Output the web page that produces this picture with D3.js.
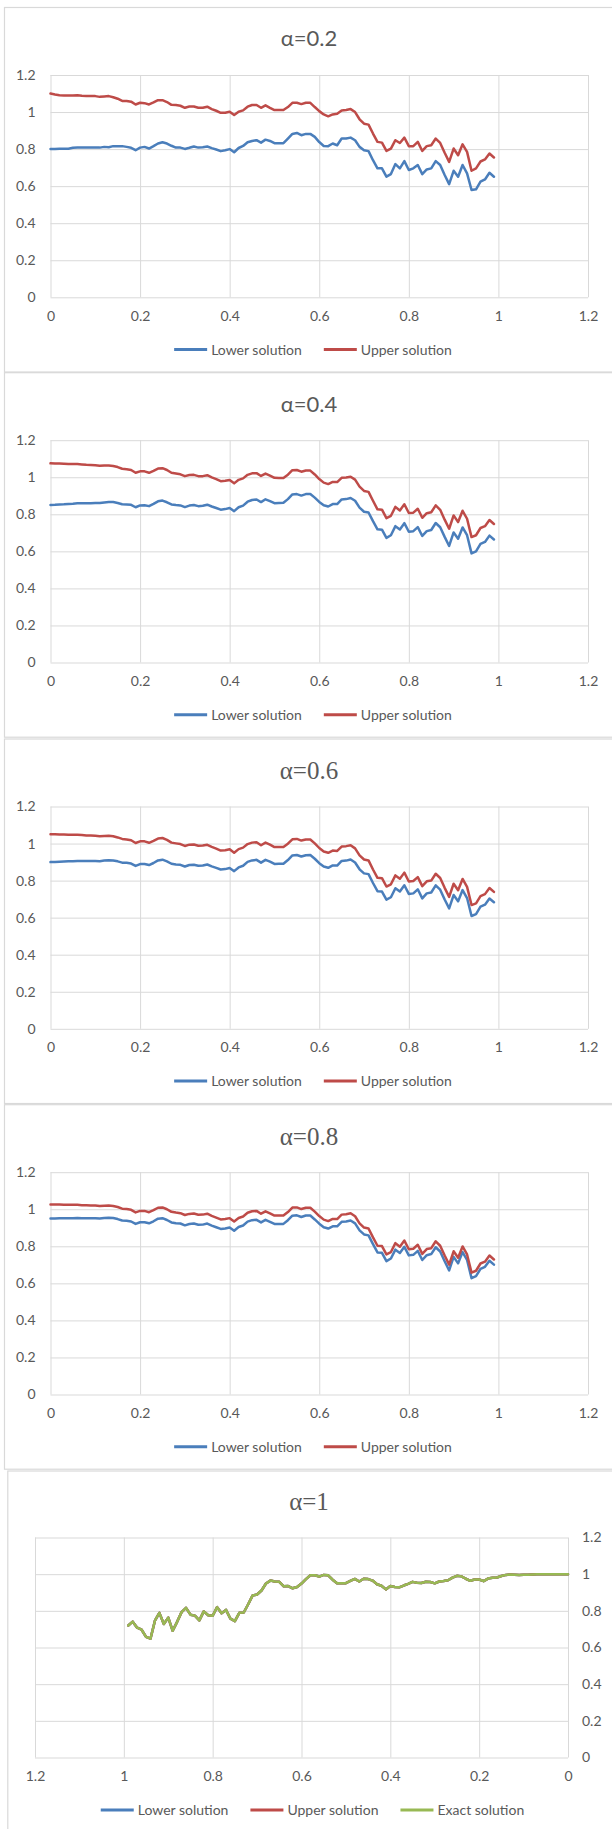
<!DOCTYPE html>
<html>
<head>
<meta charset="utf-8">
<script src="https://cdn.jsdelivr.net/npm/d3@7"></script>
<style>
  html, body { margin: 0; padding: 0; background: #ffffff; }
  svg { display: block; }
  .tick text { font-family: Lato, "Liberation Sans", sans-serif; font-size: 14px; fill: #595959; }
  .legend text { font-family: Lato, "Liberation Sans", sans-serif; font-size: 14px; fill: #595959; }
</style>
</head>
<body>
<svg id="chart" width="612" height="1829"></svg>
<script>
// ---- data -------------------------------------------------------------
const xValues = [
  0.00,0.01,0.02,0.03,0.04,0.05,0.06,0.07,0.08,0.09,
  0.10,0.11,0.12,0.13,0.14,0.15,0.16,0.17,0.18,0.19,
  0.20,0.21,0.22,0.23,0.24,0.25,0.26,0.27,0.28,0.29,
  0.30,0.31,0.32,0.33,0.34,0.35,0.36,0.37,0.38,0.39,
  0.40,0.41,0.42,0.43,0.44,0.45,0.46,0.47,0.48,0.49,
  0.50,0.51,0.52,0.53,0.54,0.55,0.56,0.57,0.58,0.59,
  0.60,0.61,0.62,0.63,0.64,0.65,0.66,0.67,0.68,0.69,
  0.70,0.71,0.72,0.73,0.74,0.75,0.76,0.77,0.78,0.79,
  0.80,0.81,0.82,0.83,0.84,0.85,0.86,0.87,0.88,0.89,
  0.90,0.91,0.92,0.93,0.94,0.95,0.96,0.97,0.98,0.99
];

const axisTicks = [0, 0.2, 0.4, 0.6, 0.8, 1, 1.2];
const axisTickLabels = ["0", "0.2", "0.4", "0.6", "0.8", "1", "1.2"];

const panelTitles = ["α=0.2", "α=0.4", "α=0.6", "α=0.8", "α=1"];
const seriesNames = ["Lower solution", "Upper solution", "Exact solution"];

const lowerA02 = [
  0.800,0.800,0.802,0.802,0.802,0.807,0.808,0.808,0.808,0.808,
  0.808,0.808,0.812,0.810,0.816,0.816,0.816,0.812,0.807,0.794,
  0.808,0.812,0.803,0.816,0.830,0.837,0.830,0.818,0.808,0.808,
  0.801,0.807,0.814,0.808,0.810,0.814,0.805,0.798,0.789,0.794,
  0.800,0.783,0.806,0.817,0.837,0.844,0.848,0.835,0.851,0.844,
  0.832,0.832,0.832,0.857,0.882,0.887,0.875,0.882,0.882,0.866,
  0.838,0.817,0.816,0.830,0.821,0.857,0.857,0.862,0.848,0.812,
  0.794,0.789,0.740,0.696,0.696,0.651,0.665,0.719,0.696,0.735,
  0.687,0.696,0.714,0.665,0.690,0.696,0.735,0.714,0.660,0.611,
  0.683,0.651,0.714,0.669,0.579,0.583,0.624,0.636,0.672,0.651
];
const upperA02 = [
  1.100,1.095,1.091,1.090,1.090,1.090,1.091,1.088,1.086,1.086,
  1.086,1.082,1.084,1.086,1.080,1.072,1.060,1.060,1.056,1.041,
  1.050,1.048,1.041,1.052,1.064,1.064,1.054,1.039,1.038,1.034,
  1.023,1.030,1.030,1.023,1.023,1.029,1.016,1.007,0.996,0.996,
  1.002,0.984,1.002,1.009,1.029,1.038,1.038,1.023,1.036,1.023,
  1.011,1.011,1.011,1.027,1.050,1.050,1.043,1.050,1.050,1.027,
  1.005,0.987,0.977,0.987,0.991,1.009,1.011,1.016,1.000,0.961,
  0.937,0.932,0.884,0.839,0.835,0.790,0.803,0.848,0.833,0.862,
  0.816,0.816,0.839,0.790,0.816,0.821,0.857,0.833,0.780,0.731,
  0.803,0.767,0.826,0.785,0.683,0.696,0.733,0.744,0.776,0.755
];

const lowerA04 = [
  0.850,0.851,0.853,0.854,0.856,0.857,0.859,0.859,0.860,0.860,
  0.861,0.861,0.864,0.866,0.866,0.861,0.854,0.853,0.851,0.838,
  0.848,0.849,0.844,0.856,0.870,0.874,0.865,0.853,0.850,0.848,
  0.839,0.847,0.850,0.844,0.846,0.852,0.842,0.834,0.825,0.828,
  0.834,0.817,0.838,0.847,0.868,0.877,0.880,0.866,0.881,0.871,
  0.860,0.861,0.862,0.882,0.907,0.909,0.901,0.909,0.910,0.890,
  0.867,0.849,0.842,0.855,0.855,0.880,0.882,0.888,0.873,0.836,
  0.814,0.810,0.763,0.719,0.717,0.673,0.687,0.736,0.718,0.752,
  0.706,0.709,0.731,0.683,0.709,0.715,0.753,0.730,0.678,0.629,
  0.702,0.668,0.729,0.687,0.589,0.600,0.640,0.651,0.685,0.664
];
const upperA04 = [
  1.075,1.074,1.074,1.073,1.072,1.071,1.071,1.069,1.067,1.066,
  1.065,1.062,1.064,1.064,1.061,1.055,1.046,1.043,1.039,1.024,
  1.032,1.032,1.024,1.035,1.047,1.049,1.039,1.024,1.020,1.016,
  1.006,1.012,1.013,1.006,1.006,1.011,0.999,0.990,0.979,0.981,
  0.985,0.967,0.986,0.994,1.013,1.021,1.022,1.007,1.020,1.009,
  0.997,0.996,0.996,1.014,1.038,1.039,1.030,1.036,1.036,1.015,
  0.990,0.971,0.963,0.975,0.974,0.997,0.999,1.003,0.987,0.949,
  0.926,0.921,0.873,0.827,0.825,0.779,0.792,0.840,0.821,0.854,
  0.807,0.809,0.830,0.781,0.806,0.811,0.848,0.824,0.771,0.722,
  0.794,0.758,0.819,0.776,0.677,0.687,0.726,0.736,0.769,0.748
];

const lowerA06 = [
  0.900,0.901,0.902,0.903,0.904,0.905,0.906,0.906,0.906,0.906,
  0.906,0.905,0.908,0.910,0.909,0.904,0.897,0.896,0.892,0.879,
  0.889,0.890,0.884,0.895,0.909,0.913,0.904,0.891,0.887,0.885,
  0.876,0.884,0.886,0.880,0.882,0.887,0.877,0.869,0.860,0.862,
  0.868,0.851,0.871,0.880,0.901,0.909,0.912,0.897,0.912,0.902,
  0.890,0.891,0.891,0.911,0.936,0.938,0.930,0.937,0.938,0.918,
  0.894,0.876,0.869,0.882,0.881,0.906,0.908,0.914,0.898,0.861,
  0.839,0.835,0.787,0.743,0.741,0.697,0.710,0.759,0.741,0.775,
  0.728,0.731,0.753,0.704,0.731,0.736,0.774,0.751,0.698,0.650,
  0.722,0.688,0.749,0.706,0.609,0.619,0.659,0.670,0.703,0.683
];
const upperA06 = [
  1.050,1.050,1.049,1.049,1.048,1.048,1.047,1.046,1.044,1.043,
  1.042,1.040,1.041,1.042,1.039,1.033,1.025,1.022,1.018,1.003,
  1.012,1.012,1.004,1.015,1.027,1.030,1.020,1.005,1.001,0.997,
  0.987,0.994,0.995,0.988,0.989,0.993,0.982,0.973,0.962,0.964,
  0.969,0.950,0.970,0.978,0.997,1.005,1.007,0.991,1.005,0.994,
  0.981,0.981,0.981,0.999,1.023,1.025,1.016,1.022,1.022,1.001,
  0.976,0.957,0.950,0.962,0.960,0.984,0.986,0.991,0.974,0.936,
  0.914,0.909,0.860,0.815,0.813,0.768,0.780,0.828,0.810,0.843,
  0.795,0.798,0.819,0.770,0.796,0.800,0.837,0.814,0.761,0.712,
  0.783,0.748,0.809,0.766,0.668,0.677,0.716,0.727,0.760,0.739
];

const lowerA08 = [
  0.950,0.950,0.951,0.951,0.952,0.952,0.953,0.952,0.952,0.951,
  0.952,0.950,0.953,0.954,0.953,0.947,0.939,0.938,0.934,0.921,
  0.930,0.930,0.924,0.935,0.949,0.952,0.942,0.929,0.925,0.923,
  0.913,0.920,0.923,0.916,0.917,0.923,0.912,0.903,0.894,0.896,
  0.901,0.884,0.904,0.912,0.933,0.941,0.943,0.929,0.943,0.932,
  0.921,0.921,0.921,0.941,0.965,0.967,0.958,0.966,0.966,0.945,
  0.922,0.903,0.896,0.908,0.908,0.932,0.934,0.939,0.924,0.886,
  0.864,0.859,0.812,0.767,0.765,0.720,0.734,0.782,0.764,0.797,
  0.751,0.754,0.775,0.726,0.752,0.758,0.795,0.772,0.719,0.670,
  0.743,0.708,0.769,0.726,0.628,0.639,0.678,0.689,0.722,0.701
];
const upperA08 = [
  1.025,1.025,1.025,1.024,1.024,1.024,1.024,1.022,1.021,1.020,
  1.020,1.017,1.019,1.020,1.018,1.012,1.003,1.001,0.997,0.983,
  0.991,0.991,0.984,0.995,1.008,1.010,1.000,0.986,0.982,0.979,
  0.969,0.975,0.977,0.970,0.971,0.976,0.964,0.955,0.945,0.947,
  0.952,0.934,0.953,0.961,0.981,0.989,0.991,0.976,0.989,0.978,
  0.966,0.966,0.966,0.985,1.009,1.010,1.001,1.008,1.008,0.987,
  0.963,0.944,0.936,0.948,0.947,0.971,0.973,0.978,0.962,0.924,
  0.901,0.896,0.848,0.803,0.801,0.756,0.769,0.817,0.798,0.831,
  0.784,0.787,0.808,0.759,0.785,0.790,0.827,0.803,0.750,0.701,
  0.773,0.738,0.799,0.756,0.658,0.668,0.707,0.717,0.750,0.729
];

// at α=1 the lower, upper and exact solutions coincide
const exactSolution = [
  1.000,1.000,1.000,1.000,1.000,1.000,1.000,0.999,0.998,0.997,
  0.997,0.995,0.997,0.998,0.996,0.990,0.982,0.980,0.976,0.962,
  0.971,0.971,0.964,0.975,0.988,0.991,0.981,0.967,0.963,0.960,
  0.950,0.957,0.959,0.952,0.953,0.958,0.947,0.938,0.928,0.930,
  0.935,0.917,0.937,0.945,0.965,0.973,0.975,0.960,0.974,0.963,
  0.951,0.951,0.951,0.970,0.994,0.996,0.987,0.994,0.994,0.973,
  0.949,0.930,0.923,0.935,0.934,0.958,0.960,0.965,0.949,0.911,
  0.889,0.884,0.836,0.791,0.789,0.744,0.757,0.805,0.787,0.820,
  0.773,0.776,0.797,0.748,0.774,0.779,0.816,0.793,0.740,0.691,
  0.763,0.728,0.789,0.746,0.648,0.658,0.697,0.708,0.741,0.720
];
const lowerA10 = exactSolution;
const upperA10 = exactSolution;

// ---- drawing ----------------------------------------------------------
const GRID = "#d9d9d9";
const TEXT = "#595959";
const FRAME = "#d9d9d9";
const COLOR = { lower: "#4a7ebb", upper: "#be4b48", exact: "#98b954" };
const LINE_W = 2.5;

const svg = d3.select("#chart");

const panels = [
  { title: panelTitles[0], titleFont: "sans", top: 7.5,   series: [["lower", lowerA02], ["upper", upperA02]] },
  { title: panelTitles[1], titleFont: "sans", top: 372.7, series: [["lower", lowerA04], ["upper", upperA04]] },
  { title: panelTitles[2], titleFont: "serif", top: 739,  series: [["lower", lowerA06], ["upper", upperA06]] },
  { title: panelTitles[3], titleFont: "serif", top: 1104.7, series: [["lower", lowerA08], ["upper", upperA08]] }
];

// vertical gridlines and category labels along the bottom
function addBottomAxis(g, axisGen, yTop, yBottom) {
  const gx = g.append("g")
    .attr("transform", `translate(0,${yBottom})`)
    .call(axisGen.tickValues(axisTicks).tickSize(-(yBottom - yTop)).tickPadding(13.5)
      .tickFormat((d, i) => axisTickLabels[i]));
  gx.select(".domain").remove();
  gx.selectAll(".tick line").attr("stroke", GRID).attr("stroke-width", 1);
  return gx;
}

function drawLegend(g, cx, cy, keys) {
  const lg = g.append("g").attr("class", "legend");
  const LINE = 33, GAP = 4, SPACING = 22;
  const items = keys.map(k => {
    const it = lg.append("g");
    it.append("line").attr("x1", 0).attr("x2", LINE).attr("y1", 0).attr("y2", 0)
      .attr("stroke", COLOR[k]).attr("stroke-width", 3);
    const t = it.append("text").attr("x", LINE + GAP).attr("y", 0).attr("dy", "0.35em")
      .text(seriesNames[{ lower: 0, upper: 1, exact: 2 }[k]]);
    return { it, w: LINE + GAP + t.node().getComputedTextLength() };
  });
  const total = d3.sum(items, d => d.w) + SPACING * (items.length - 1);
  let cur = cx - total / 2;
  items.forEach(d => { d.it.attr("transform", `translate(${cur},${cy})`); cur += d.w + SPACING; });
}

const lineGen = (x, y, vals) => d3.line()
  .x((d, i) => x(xValues[i]))
  .y(d => y(d))(vals);

function drawSeries(g, x, y, list) {
  list.forEach(([k, vals]) => {
    g.append("path").attr("d", lineGen(x, y, vals)).attr("fill", "none")
      .attr("stroke", COLOR[k]).attr("stroke-width", LINE_W)
      .attr("stroke-linejoin", "round").attr("stroke-linecap", "round");
  });
}

// α = 0.2 … 0.8 : x axis left to right, value axis on the left
panels.forEach(p => {
  const g = svg.append("g");
  g.append("rect").attr("x", 4.5).attr("y", p.top).attr("width", 640).attr("height", 364.5)
    .attr("fill", "none").attr("stroke", FRAME).attr("stroke-width", 1.2);

  const xLeft = 50.5, xRight = 588;
  const yTop = p.top + 67.5, yBottom = p.top + 289.8;
  const x = d3.scaleLinear().domain([0, 1.2]).range([xLeft, xRight]);
  const y = d3.scaleLinear().domain([0, 1.2]).range([yBottom, yTop]);

  const gy = g.append("g").attr("transform", `translate(${xLeft},0)`)
    .call(d3.axisLeft(y).tickValues(axisTicks).tickSize(-(xRight - xLeft)).tickPadding(15)
      .tickFormat((d, i) => axisTickLabels[i]));
  gy.select(".domain").remove();
  gy.selectAll(".tick line").attr("stroke", GRID).attr("stroke-width", 1);

  addBottomAxis(g, d3.axisBottom(x), yTop, yBottom);
  drawSeries(g, x, y, p.series);

  g.append("text").attr("x", 309).attr("y", p.top + 31.2).attr("dy", "0.35em")
    .attr("text-anchor", "middle").attr("fill", TEXT)
    .style("font-family", p.titleFont === "serif" ? "'Liberation Serif', 'DejaVu Serif', serif" : "Lato, 'Liberation Sans', sans-serif")
    .style("font-size", p.titleFont === "serif" ? "25px" : "22px")
    .text(p.title);

  drawLegend(g, 313, yBottom + 52.3, ["lower", "upper"]);
});

// α = 1 : reversed x axis, value axis on the right
(function () {
  const top = 1471;
  const g = svg.append("g");
  g.append("rect").attr("x", 7.8).attr("y", top).attr("width", 640).attr("height", 400)
    .attr("fill", "none").attr("stroke", FRAME).attr("stroke-width", 1.2);

  const xLeft = 35, xRight = 568;
  const yTop = 1537.5, yBottom = 1757.5;
  const x = d3.scaleLinear().domain([0, 1.2]).range([xRight, xLeft]);
  const y = d3.scaleLinear().domain([0, 1.2]).range([yBottom, yTop]);

  const gy = g.append("g").attr("transform", `translate(${xRight},0)`)
    .call(d3.axisRight(y).tickValues(axisTicks).tickSize(-(xRight - xLeft)).tickPadding(14)
      .tickFormat((d, i) => axisTickLabels[i]));
  gy.select(".domain").remove();
  gy.selectAll(".tick line").attr("stroke", GRID).attr("stroke-width", 1);

  addBottomAxis(g, d3.axisBottom(x), yTop, yBottom);
  drawSeries(g, x, y, [["lower", lowerA10], ["upper", upperA10], ["exact", exactSolution]]);

  g.append("text").attr("x", 309).attr("y", 1501.7).attr("dy", "0.35em")
    .attr("text-anchor", "middle").attr("fill", TEXT)
    .style("font-family", "'Liberation Serif', 'DejaVu Serif', serif")
    .style("font-size", "25px")
    .text(panelTitles[4]);

  drawLegend(g, 312.5, 1810, ["lower", "upper", "exact"]);
})();
</script>
</body>
</html>
